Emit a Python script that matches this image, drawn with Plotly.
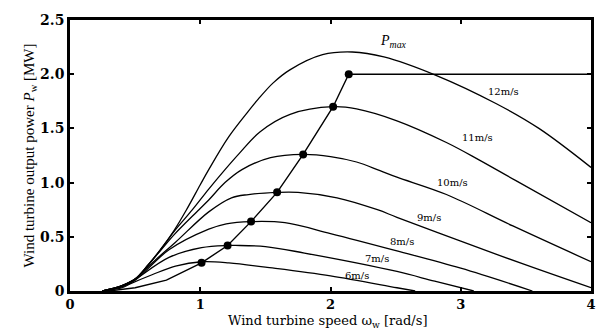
import plotly.graph_objects as go

# ---- data ----
x12 = [0.25, 0.40, 0.50, 0.60, 0.70, 0.80, 0.89, 1.0, 1.065, 1.217, 1.37, 1.445, 1.56, 1.688, 1.939, 2.167, 2.41, 2.81, 3.27, 3.60, 4.0]
y12 = [0.0, 0.05, 0.11, 0.24, 0.39, 0.56, 0.74, 0.98, 1.12, 1.42, 1.66, 1.77, 1.92, 2.04, 2.18, 2.205, 2.16, 1.99, 1.73, 1.50, 1.14]
x11 = [0.25, 0.40, 0.50, 0.60, 0.70, 0.80, 0.94, 1.065, 1.19, 1.30, 1.46, 1.69, 2.02, 2.20, 2.51, 2.89, 3.14, 3.42, 4.0]
y11 = [0.0, 0.05, 0.11, 0.24, 0.39, 0.55, 0.75, 0.94, 1.12, 1.27, 1.47, 1.63, 1.70, 1.68, 1.57, 1.37, 1.21, 1.02, 0.63]
x10 = [0.25, 0.40, 0.50, 0.60, 0.70, 0.80, 0.99, 1.065, 1.19, 1.32, 1.54, 1.79, 2.0, 2.20, 2.38, 2.51, 2.89, 3.4, 4.0]
y10 = [0.0, 0.05, 0.11, 0.24, 0.38, 0.52, 0.75, 0.84, 1.0, 1.12, 1.23, 1.26, 1.24, 1.19, 1.11, 1.05, 0.89, 0.60, 0.27]
x9 = [0.25, 0.40, 0.50, 0.65, 0.81, 1.065, 1.24, 1.37, 1.59, 1.75, 2.05, 2.36, 2.51, 3.0, 3.5, 4.0]
y9 = [0.0, 0.05, 0.11, 0.28, 0.45, 0.73, 0.86, 0.89, 0.91, 0.91, 0.86, 0.75, 0.68, 0.46, 0.24, 0.03]
x8 = [0.25, 0.40, 0.50, 0.76, 1.065, 1.20, 1.39, 1.65, 2.0, 2.51, 3.0, 3.55]
y8 = [0.0, 0.04, 0.10, 0.38, 0.57, 0.62, 0.64, 0.63, 0.53, 0.37, 0.21, 0.0]
x7 = [0.25, 0.40, 0.48, 0.76, 1.01, 1.21, 1.27, 1.50, 1.80, 2.51, 2.80, 3.10]
y7 = [0.0, 0.04, 0.09, 0.31, 0.40, 0.42, 0.42, 0.41, 0.35, 0.18, 0.09, 0.0]
x6 = [0.25, 0.40, 0.47, 0.63, 0.81, 1.01, 1.22, 1.50, 2.0, 2.51, 2.65]
y6 = [0.0, 0.03, 0.07, 0.15, 0.23, 0.27, 0.26, 0.22, 0.14, 0.03, 0.0]

mppt_x = [0.30, 0.50, 0.74, 1.01, 1.21, 1.39, 1.59, 1.79, 2.02, 2.14, 4.0]
mppt_y = [0.0, 0.03, 0.10, 0.26, 0.42, 0.64, 0.91, 1.26, 1.70, 2.0, 2.0]

dot_x = [1.01, 1.21, 1.39, 1.59, 1.79, 2.02, 2.14]
dot_y = [0.26, 0.42, 0.64, 0.91, 1.26, 1.70, 2.0]

labels = ["12m/s", "11m/s", "10m/s", "9m/s", "8m/s", "7m/s", "6m/s"]
label_x = [3.33, 3.13, 2.94, 2.76, 2.55, 2.36, 2.20]
label_y = [1.84, 1.42, 1.00, 0.68, 0.46, 0.30, 0.14]

x_ticks = [0, 1, 2, 3, 4]
x_ticktext = ["0", "1", "2", "3", "4"]
y_ticks = [0, 0.5, 1.0, 1.5, 2.0, 2.5]
y_ticktext = ["0", "0.5", "1.0", "1.5", "2.0", "2.5"]

SERIF = "Liberation Serif, Times New Roman, serif"
WIDE = "DejaVu Serif, serif"

fig = go.Figure()
for xs, ys in [(x12, y12), (x11, y11), (x10, y10), (x9, y9), (x8, y8), (x7, y7), (x6, y6)]:
    fig.add_trace(go.Scatter(x=xs, y=ys, mode="lines", line=dict(color="black", width=1.3),
                             line_shape="spline", hoverinfo="skip", showlegend=False))

fig.add_trace(go.Scatter(x=mppt_x, y=mppt_y, mode="lines", line=dict(color="black", width=1.4),
                         showlegend=False, hoverinfo="skip"))
fig.add_trace(go.Scatter(x=dot_x, y=dot_y, mode="markers", marker=dict(color="black", size=8),
                         showlegend=False, hoverinfo="skip"))

for t, lx, ly in zip(labels, label_x, label_y):
    fig.add_annotation(x=lx, y=ly, text=t, showarrow=False,
                       font=dict(family=WIDE, size=10, color="black"))
fig.add_annotation(x=2.48, y=2.30, text="<i>P<sub>max</sub></i>", showarrow=False,
                   font=dict(family=SERIF, size=14, color="black"))

# x-axis title placed as paper annotation (centered under the axis)
fig.add_annotation(xref="paper", yref="paper", x=0.494, y=-0.113, yanchor="middle",
                   text="Wind turbine speed ω<sub>w</sub> [rad/s]", showarrow=False,
                   font=dict(family=WIDE, size=13, color="black"))

fig.update_layout(
    width=602, height=329,
    margin=dict(l=70, r=6, t=20, b=38),
    paper_bgcolor="white", plot_bgcolor="white",
    font=dict(family=SERIF, color="black"),
)
fig.update_xaxes(
    range=[0, 4], tickvals=x_ticks, ticktext=x_ticktext,
    ticks="inside", ticklen=4, tickwidth=1.5, tickcolor="black",
    showline=True, linewidth=2.5, linecolor="black", mirror="ticks",
    showgrid=False, zeroline=False,
    tickfont=dict(family=WIDE, size=13, color="black", weight="bold"),
)
fig.update_yaxes(
    range=[0, 2.5], tickvals=y_ticks, ticktext=y_ticktext,
    ticks="inside", ticklen=4, tickwidth=1.5, tickcolor="black",
    showline=True, linewidth=2.5, linecolor="black", mirror="ticks",
    showgrid=False, zeroline=False,
    tickfont=dict(family=WIDE, size=14, color="black", weight="bold"),
    title=dict(text="Wind turbine output power <i>P</i><sub>w</sub> [MW]", standoff=2,
               font=dict(family=SERIF, size=15, color="black")),
)

fig.write_html("out.html", config={"displayModeBar": False},
               post_script="document.body.style.margin='0';")
